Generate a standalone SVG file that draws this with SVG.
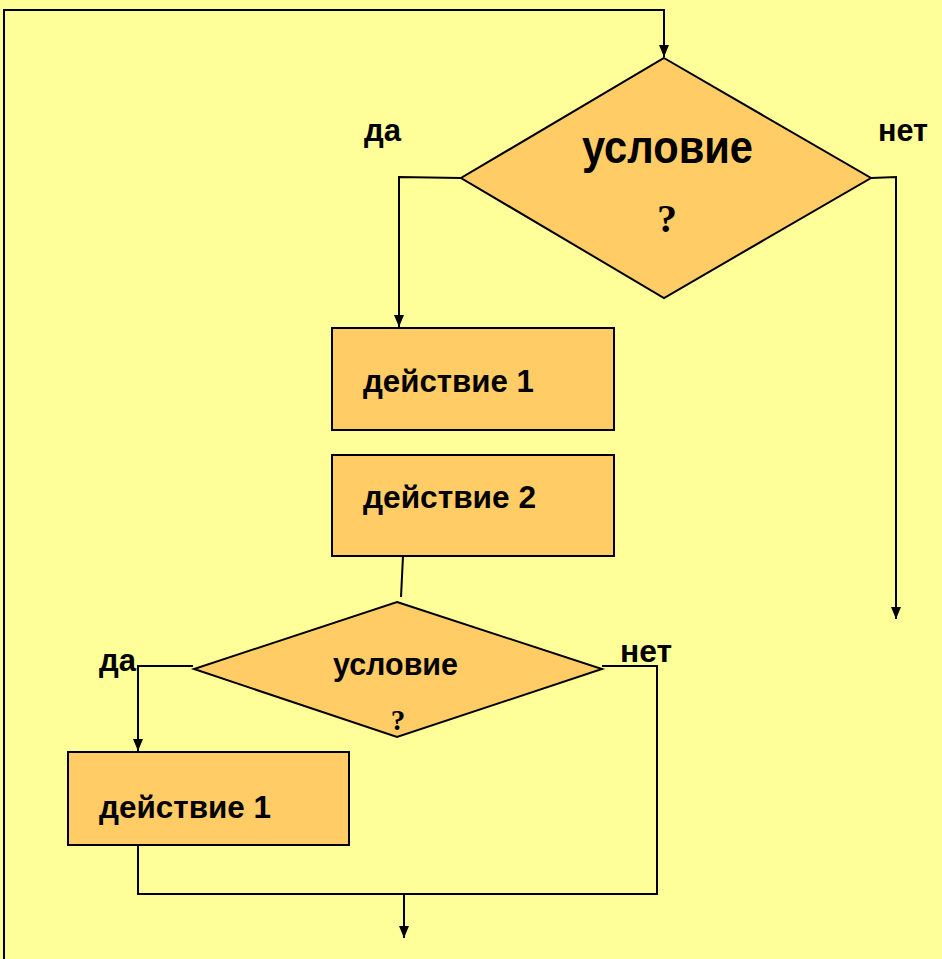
<svg xmlns="http://www.w3.org/2000/svg" width="942" height="959" viewBox="0 0 942 959">
  <style>
    .shape { fill: #FFCC66; stroke: #000; stroke-width: 2; }
    .conn { fill: none; stroke: #000; stroke-width: 2; }
    .lbl { font-family: "Liberation Sans", Arial, sans-serif; font-weight: bold; fill: #000; }
    .q { font-family: "Liberation Serif", "Times New Roman", serif; font-weight: bold; fill: #000; text-anchor: middle; }
  </style>
  <defs>
    <marker id="arrow" viewBox="0 0 12 14" refX="12" refY="7" markerWidth="12" markerHeight="14" markerUnits="userSpaceOnUse" orient="auto">
      <path d="M0,2 L12,7 L0,12 z" fill="#000"/>
    </marker>
  </defs>
  <rect x="0" y="0" width="942" height="959" fill="#FFFF99"/>

  <g id="connectors">
    <polyline class="conn" points="4,959 4,10 664,10 664,57" marker-end="url(#arrow)"/>
    <polyline class="conn" points="461,178 399,177 399,327" marker-end="url(#arrow)"/>
    <polyline class="conn" points="871,178 896,177 896,619" marker-end="url(#arrow)"/>
    <line class="conn" x1="403" y1="556" x2="401" y2="597"/>
    <polyline class="conn" points="193,666 138,666 138,751" marker-end="url(#arrow)"/>
    <polyline class="conn" points="602,666 657,666 657,894 138,894 138,845"/>
    <line class="conn" x1="404" y1="894" x2="404" y2="938" marker-end="url(#arrow)"/>
  </g>

  <g id="cond1">
    <polygon class="shape" points="664,58 871,178 664,298 461,178"/>
    <text class="lbl" x="582" y="163" font-size="46" textLength="171" lengthAdjust="spacingAndGlyphs">условие</text>
    <text class="q" x="667" y="232" font-size="40">?</text>
  </g>
  <text class="lbl" x="364" y="141" font-size="31" textLength="37" lengthAdjust="spacingAndGlyphs">да</text>
  <text class="lbl" x="878" y="141" font-size="31" textLength="50" lengthAdjust="spacingAndGlyphs">нет</text>

  <g id="act1">
    <rect class="shape" x="332" y="328" width="282" height="102"/>
    <text class="lbl" x="363" y="392" font-size="31" textLength="171" lengthAdjust="spacingAndGlyphs">действие 1</text>
  </g>

  <g id="act2">
    <rect class="shape" x="332" y="455" width="282" height="101"/>
    <text class="lbl" x="363" y="508" font-size="31" textLength="173" lengthAdjust="spacingAndGlyphs">действие 2</text>
  </g>

  <g id="cond2">
    <polygon class="shape" points="397,602 602,669 397,737 194,669"/>
    <text class="lbl" x="333" y="675" font-size="31" textLength="125" lengthAdjust="spacingAndGlyphs">условие</text>
    <text class="q" x="398" y="730" font-size="29">?</text>
  </g>
  <text class="lbl" x="99" y="671" font-size="31" textLength="37" lengthAdjust="spacingAndGlyphs">да</text>
  <text class="lbl" x="620" y="662" font-size="31" textLength="52" lengthAdjust="spacingAndGlyphs">нет</text>

  <g id="act3">
    <rect class="shape" x="68" y="752" width="281" height="93"/>
    <text class="lbl" x="99" y="818" font-size="31" textLength="172" lengthAdjust="spacingAndGlyphs">действие 1</text>
  </g>
</svg>
